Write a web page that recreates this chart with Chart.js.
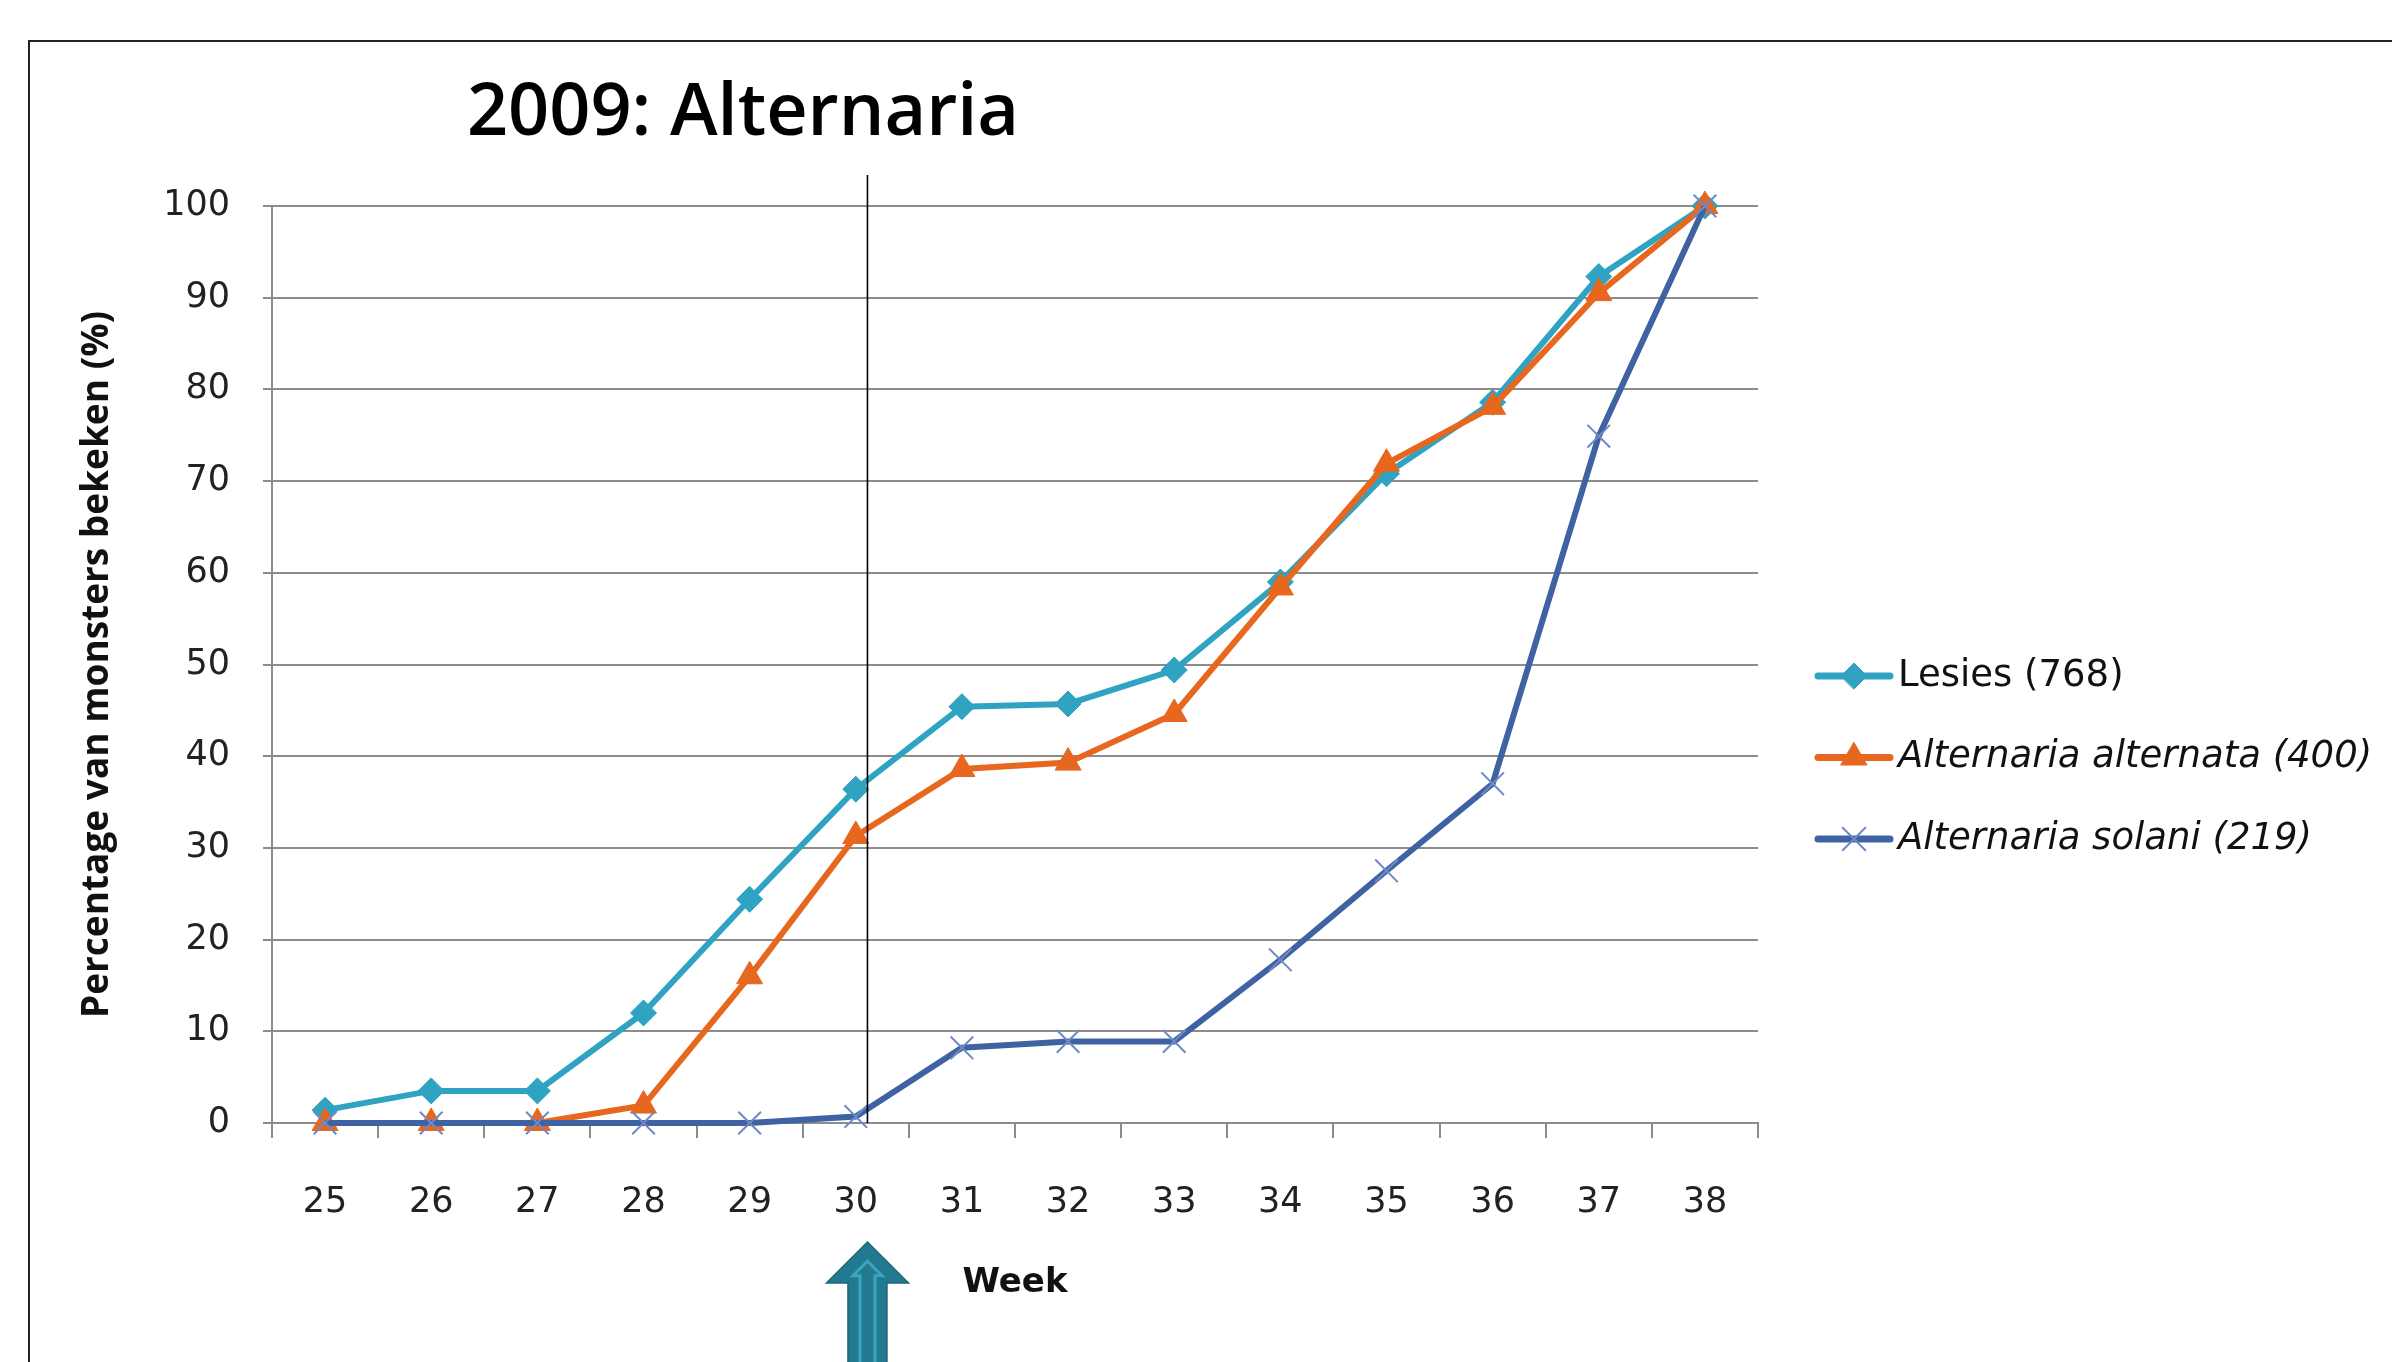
<!DOCTYPE html>
<html>
<head>
<meta charset="utf-8">
<script src="https://cdn.jsdelivr.net/npm/chart.js@4/dist/chart.umd.min.js"></script>
<style>
  html, body { margin: 0; padding: 0; background: #fff; overflow: hidden; }
  .frame { position: absolute; left: 28px; top: 40px; width: 3000px; height: 2000px; border: 2px solid #222; }
  #chart { position: absolute; left: 0; top: 0; }
</style>
</head>
<body>
<div class="frame"></div>
<canvas id="chart" width="2392" height="1362"></canvas>
<script>
const weeks = ['25','26','27','28','29','30','31','32','33','34','35','36','37','38'];
const lesies = [1.4, 3.5, 3.5, 12.0, 24.4, 36.4, 45.4, 45.7, 49.4, 59.0, 70.8, 78.6, 92.3, 100];
const alternata = [0, 0, 0, 1.9, 16.0, 31.3, 38.6, 39.3, 44.6, 58.4, 71.9, 78.1, 90.5, 100];
const solani = [0, 0, 0, 0, 0, 0.7, 8.2, 8.9, 8.9, 17.8, 27.5, 37.0, 74.9, 100];
const seriesNames = ['Lesies (768)', 'Alternaria alternata (400)', 'Alternaria solani (219)'];
const markWeek = 5.11; // week 30 line, drawn a bit right of the category centre

const grid = '#8c8c8c';

// title drawn by hand, it is not centred on the plot
const titlePlugin = {
    id: 'sideTitle',
    afterDraw(chart) {
        const ctx = chart.ctx;
        ctx.save();
        ctx.font = '600 72px "Open Sans"';
        ctx.fillStyle = '#000';
        ctx.textAlign = 'center';
        ctx.textBaseline = 'alphabetic';
        ctx.fillText('2009: Alternaria', 743, 135);
        ctx.restore();
    }
};

const legendPlugin = {
    id: 'sideLegend',
    afterDraw(chart) {
        const ctx = chart.ctx;
        chart.data.datasets.forEach((ds, i) => {
            const y = 676 + i * 81.5;
            ctx.save();
            ctx.strokeStyle = ds.borderColor;
            ctx.lineWidth = 7;
            ctx.lineCap = 'round';
            ctx.beginPath();
            ctx.moveTo(1818, y);
            ctx.lineTo(1890, y);
            ctx.stroke();
            ctx.fillStyle = ds.pointBackgroundColor;
            ctx.strokeStyle = ds.pointBorderColor;
            ctx.lineWidth = ds.pointBorderWidth;
            Chart.helpers.drawPoint(ctx, {pointStyle: ds.pointStyle, radius: ds.pointRadius, borderWidth: ds.pointBorderWidth}, 1854, y);
            ctx.font = (i ? 'italic ' : '') + '37px "DejaVu Sans"';
            ctx.fillStyle = '#111';
            ctx.textAlign = 'left';
            ctx.textBaseline = 'middle';
            ctx.fillText(ds.label, 1898, y);
            ctx.restore();
        });
    }
};

const markerPlugin = {
    id: 'week30',
    afterDatasetsDraw(chart) {
        const ctx = chart.ctx;
        const x = chart.scales.x.getPixelForValue(markWeek);
        ctx.save();
        ctx.strokeStyle = '#000';
        ctx.lineWidth = 1.6;
        ctx.beginPath();
        ctx.moveTo(x, 175);
        ctx.lineTo(x, chart.chartArea.bottom);
        ctx.stroke();

        // arrow under the axis
        const tip = 1242, base = 1283, head = 41, shaft = 19.5, end = 1400;
        const path = (d) => {
            ctx.beginPath();
            ctx.moveTo(x, tip + d * 1.6);
            ctx.lineTo(x + head - d * 2.2, base - d * 0.6);
            ctx.lineTo(x + shaft - d, base - d * 0.6);
            ctx.lineTo(x + shaft - d, end);
            ctx.lineTo(x - shaft + d, end);
            ctx.lineTo(x - shaft + d, base - d * 0.6);
            ctx.lineTo(x - head + d * 2.2, base - d * 0.6);
            ctx.closePath();
        };
        path(0);
        ctx.fillStyle = '#23798d';
        ctx.fill();
        ctx.strokeStyle = '#1c6778';
        ctx.lineWidth = 1.5;
        ctx.stroke();
        path(12);
        ctx.strokeStyle = '#3aa5c2';
        ctx.lineWidth = 3;
        ctx.stroke();
        ctx.restore();
    }
};

new Chart(document.getElementById('chart'), {
    type: 'line',
    data: {
        labels: weeks,
        datasets: [
            {
                label: seriesNames[0],
                data: lesies,
                borderColor: '#30a2c2',
                borderWidth: 6,
                pointStyle: 'rectRot',
                pointRadius: 13,
                pointBackgroundColor: '#30a2c2',
                pointBorderColor: '#30a2c2',
                pointBorderWidth: 1,
                clip: false,
                order: 2
            },
            {
                label: seriesNames[1],
                data: alternata,
                borderColor: '#e8671f',
                borderWidth: 6,
                pointStyle: 'triangle',
                pointRadius: 15,
                pointBackgroundColor: '#e8671f',
                pointBorderColor: '#e8671f',
                pointBorderWidth: 1,
                clip: false,
                order: 1
            },
            {
                label: seriesNames[2],
                data: solani,
                borderColor: '#3e62a2',
                borderWidth: 6,
                pointStyle: 'crossRot',
                pointRadius: 16,
                pointBackgroundColor: '#6f89c6',
                pointBorderColor: '#6f89c6',
                pointBorderWidth: 2,
                clip: false,
                order: 0
            }
        ]
    },
    options: {
        responsive: false,
        devicePixelRatio: 1,
        animation: false,
        layout: { padding: { left: 60, top: 206, right: 634, bottom: 0 } },
        plugins: {
            legend: { display: false },
            title: { display: false },
            tooltip: { enabled: false }
        },
        scales: {
            x: {
                offset: true,
                afterFit: (s) => { s.height = 239; },
                grid: { offset: true, drawOnChartArea: false, color: grid, lineWidth: 2, tickLength: 15 },
                border: { color: grid, width: 2 },
                ticks: { color: '#222', padding: 44, font: { family: 'DejaVu Sans', size: 35 } },
                title: {
                    display: true,
                    text: 'Week',
                    color: '#111',
                    font: { family: 'DejaVu Sans', weight: 'bold', size: 34 },
                    padding: { top: 0, bottom: 58 }
                }
            },
            y: {
                min: 0,
                max: 100,
                afterFit: (s) => { s.width = 212; },
                grid: { color: grid, lineWidth: 2, tickLength: 9 },
                border: { color: grid, width: 2 },
                ticks: { stepSize: 10, color: '#222', padding: 33, font: { family: 'DejaVu Sans', size: 35 } },
                title: {
                    display: true,
                    text: 'Percentage van monsters bekeken (%)',
                    color: '#111',
                    font: { family: 'Open Sans', weight: 'bold', size: 37 },
                    padding: { top: 15, bottom: 0 }
                }
            }
        }
    },
    plugins: [titlePlugin, legendPlugin, markerPlugin]
});
</script>
</body>
</html>
